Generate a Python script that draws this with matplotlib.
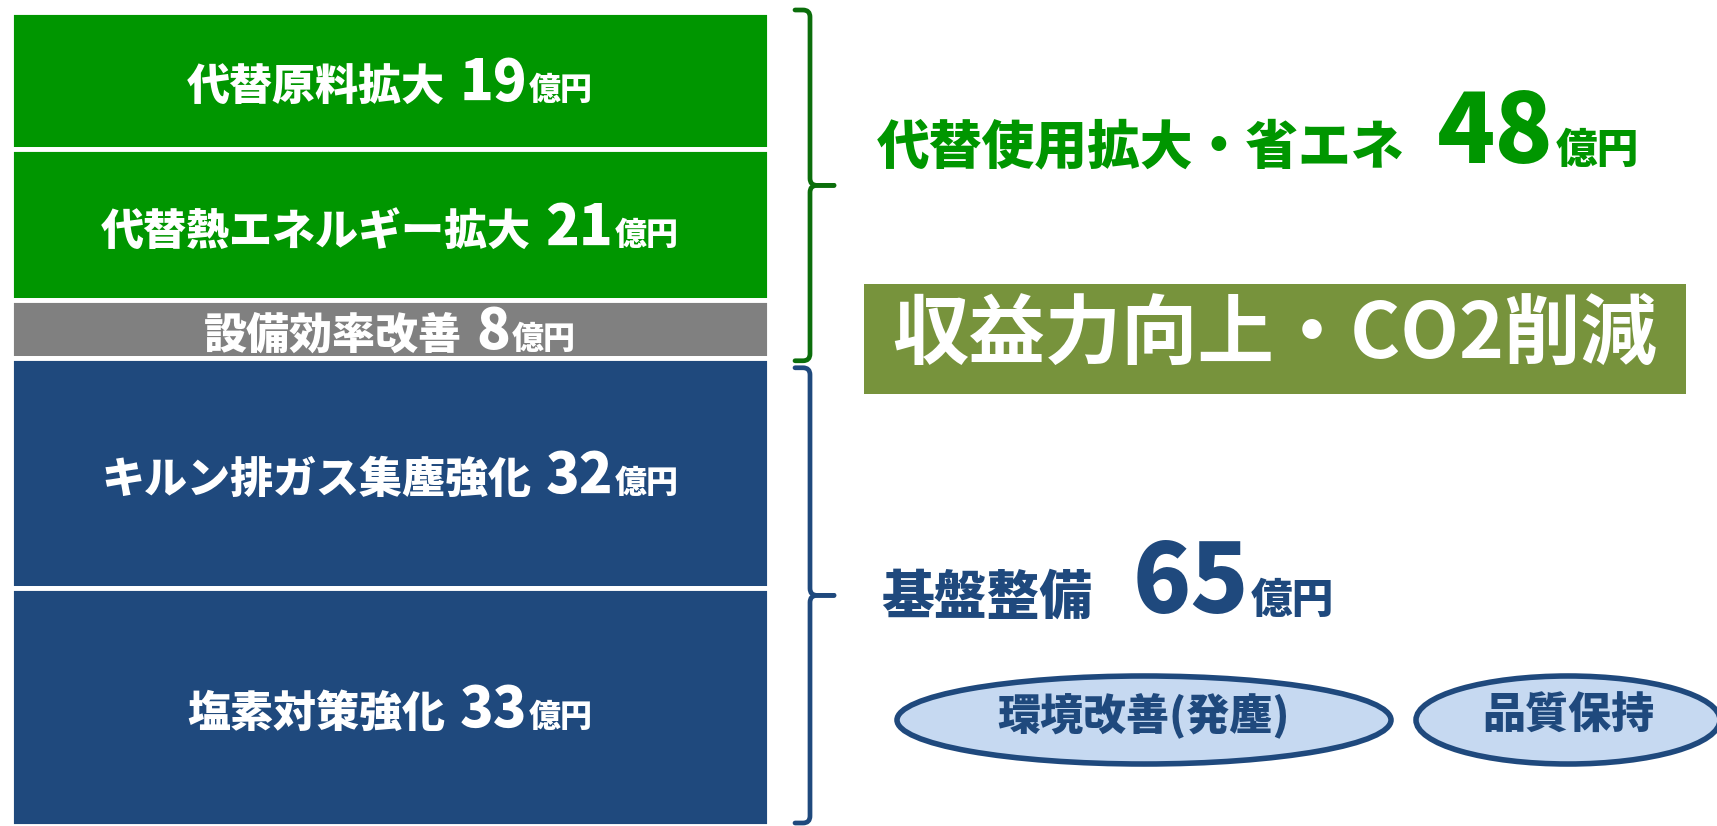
import matplotlib
matplotlib.use('Agg')
import matplotlib.pyplot as plt
from matplotlib.path import Path
from matplotlib.patches import PathPatch, Ellipse, Rectangle

plt.rcParams['font.family'] = ['Noto Sans CJK JP', 'DejaVu Sans']

# investment items (top to bottom) and amounts in 億円
items = ['代替原料拡大', '代替熱エネルギー拡大', '設備効率改善', 'キルン排ガス集塵強化', '塩素対策強化']
values = [19, 21, 8, 32, 33]
unit = '億円'

# groups shown by the braces on the right
group_names = ['代替使用拡大・省エネ', '基盤整備']
group_members = [[0, 1, 2], [3, 4]]
headline = '収益力向上・CO2削減'
tags = ['環境改善(発塵)', '品質保持']

bar_colors = ['#009600', '#009600', '#808080', '#1F497D', '#1F497D']
group_colors = ['#009600', '#1F497D']
brace_colors = ['#0B6E0B', '#1F497D']

W, H = 1717, 826
fig = plt.figure(figsize=(W / 100, H / 100), dpi=100)

# stacked bar, top to bottom
ax_bar = fig.add_axes([11 / W, 0, 758 / W, 814 / H])
total = sum(values)
bottoms = [sum(values[:i]) for i in range(len(values))]
ax_bar.bar([0] * len(values), values, bottom=bottoms, width=1.0,
           color=bar_colors, edgecolor='white', linewidth=3.5)
ax_bar.set_xlim(-0.5, 0.5)
ax_bar.set_ylim(total, 0)
ax_bar.axis('off')

# overlay in pixel units for annotations
ax = fig.add_axes([0, 0, 1, 1])
ax.set_xlim(0, W)
ax.set_ylim(H, 0)
ax.axis('off')
ax.patch.set_visible(False)

renderer = fig.canvas.get_renderer()


def bar_px(v):
    # bar value -> overlay pixel y
    return ax.transData.inverted().transform(ax_bar.transData.transform((0, v)))[1]


def rich_text(x, y, parts, color, weight='heavy'):
    # parts: (text, fontsize, gap before in px); centred on x, baseline at y
    arts = []
    for s, size, gap in parts:
        t = ax.text(0, y, s, fontsize=size, fontweight=weight, color=color,
                    ha='left', va='baseline')
        arts.append((t, gap, t.get_window_extent(renderer=renderer).width))
    width = sum(g + w for _, g, w in arts)
    cx = x - width / 2
    for t, gap, w in arts:
        cx += gap
        t.set_x(cx)
        cx += w


def brace(x, y0, y1, color):
    ym = (y0 + y1) / 2
    r = 7
    for ya, sgn in [(y0, 1), (y1, -1)]:
        verts = [(x - 15, ya), (x - r, ya), (x, ya), (x, ya + sgn * r),
                 (x, ym - sgn * r), (x, ym), (x + r, ym), (x + 24, ym)]
        codes = [Path.MOVETO, Path.LINETO, Path.CURVE3, Path.CURVE3,
                 Path.LINETO, Path.CURVE3, Path.CURVE3, Path.LINETO]
        ax.add_patch(PathPatch(Path(verts, codes), fill=False, edgecolor=color,
                               lw=3.4, capstyle='round', joinstyle='round'))
    return ym


# bar labels
for name, v, b in zip(items, values, bottoms):
    yc = bar_px(b + v / 2)
    rich_text(390, yc + 20, [(name, 31, 0), (str(v), 40, 14), (unit, 23, 2)], 'white')

# braces and group texts
insets = [(-2, 3), (10, -3)]
for gi, (gname, members) in enumerate(zip(group_names, group_members)):
    top = bottoms[members[0]]
    bot = bottoms[members[-1]] + values[members[-1]]
    y0 = bar_px(top) + insets[gi][0]
    y1 = bar_px(bot) + insets[gi][1]
    ym = brace(810, y0, y1, brace_colors[gi])
    gsum = sum(values[i] for i in members)
    if gi == 0:
        rich_text(1258, ym - 22, [(gname, 38, 0), (str(gsum), 69, 32), (unit, 30, 2)],
                  group_colors[gi])
    else:
        rich_text(1108, ym + 18, [(gname, 38, 0), (str(gsum), 69, 40), (unit, 30, 2)],
                  group_colors[gi])

# headline box
ax.add_patch(Rectangle((864, 284), 822, 110, facecolor='#77933C', edgecolor='none'))
ax.text(1275, 358, headline, fontsize=55, fontweight='bold', color='white',
        ha='center', va='baseline')

# tag ellipses
for tag, cx, w, fs in zip(tags, [1144, 1568], [494, 304], [31, 31]):
    ax.add_patch(Ellipse((cx, 720), w, 88, facecolor='#C6D9F1', edgecolor='#1F497D', lw=4))
    ax.text(cx, 716, tag, fontsize=fs, fontweight='heavy', color='#1F497D',
            ha='center', va='center')

fig.savefig('out.png', dpi=100, facecolor='white')
